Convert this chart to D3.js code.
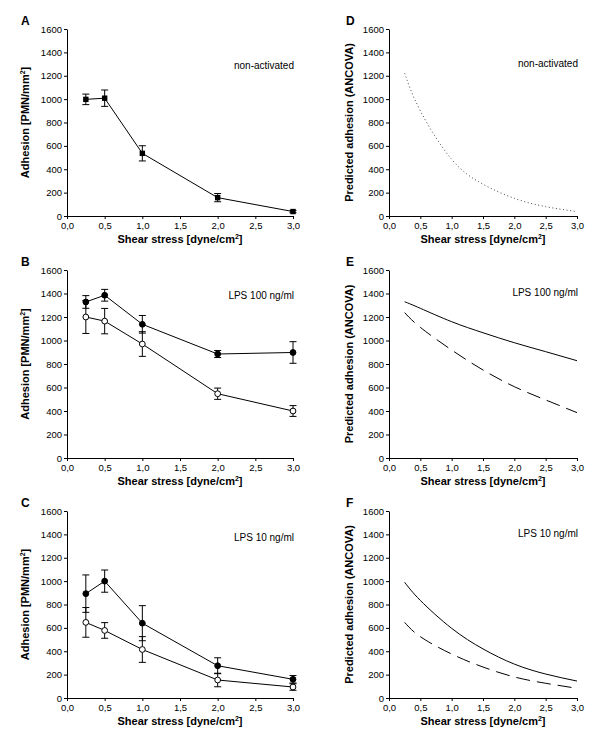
<!DOCTYPE html>
<html>
<head>
<meta charset="utf-8">
<script src="https://cdn.jsdelivr.net/npm/d3@7"></script>
<style>
  body { margin: 0; background: #fff; }
  text { font-family: "Liberation Sans", Arial, sans-serif; fill: #000; }
</style>
</head>
<body>
<div id="chart"></div>
<script>
// shear stress levels used in the experiments
var shear = [0.25, 0.5, 1, 2, 3];

// A: non-activated (mean, sem)
var aMean = [998, 1008, 536, 157, 38];
var aErr  = [45, 70, 65, 35, 10];

// B: LPS 100 ng/ml, filled and open symbols
var bFilled    = [1328, 1385, 1138, 885, 898];
var bFilledErr = [54, 50, 75, 30, 92];
var bOpen      = [1200, 1165, 970, 547, 400];
var bOpenErr   = [140, 108, 105, 48, 46];

// C: LPS 10 ng/ml
var cFilled    = [893, 1000, 640, 276, 160];
var cFilledErr = [160, 95, 150, 68, 32];
var cOpen      = [647, 578, 415, 154, 94];
var cOpenErr   = [127, 67, 110, 58, 28];

// D-F: predicted curves (ANCOVA)
var curveX   = [0.25, 0.5, 1, 1.5, 2, 2.5, 3];
var dDotted  = [1221, 900, 485, 272, 151, 80, 37];
var eSolid   = [1330, 1274, 1160, 1066, 981, 905, 828];
var eDashed  = [1237, 1112, 919, 749, 607, 494, 386];
var fSolid   = [990, 835, 596, 420, 290, 205, 145];
var fDashed  = [647, 525, 376, 265, 180, 126, 83];

var xTicks = [0, 0.5, 1, 1.5, 2, 2.5, 3];
var yTicks = [0, 200, 400, 600, 800, 1000, 1200, 1400, 1600];

var W = 600, H = 746;
var svg = d3.select("#chart").append("svg")
    .attr("width", W).attr("height", H);

var fmtX = function(d) { return d3.format(".1f")(d).replace(".", ","); };

function drawPanel(p)
{
    var x = d3.scaleLinear().domain([0, 3]).range([p.left, p.right]);
    var y = d3.scaleLinear().domain([0, 1600]).range([p.bottom, p.top]);

    var gx = svg.append("g")
        .attr("transform", "translate(0," + p.bottom + ")")
        .call(d3.axisBottom(x).tickValues(xTicks).tickFormat(fmtX)
              .tickSize(3).tickSizeOuter(0).tickPadding(3));
    var gy = svg.append("g")
        .attr("transform", "translate(" + p.left + ",0)")
        .call(d3.axisLeft(y).tickValues(yTicks).tickFormat(d3.format("d"))
              .tickSize(3).tickSizeOuter(0).tickPadding(2));
    [gx, gy].forEach(function(g) {
        g.selectAll("path, line").attr("stroke", "#000");
        g.selectAll("text").attr("font-size", 9.5)
            .attr("font-family", "Liberation Sans, Arial, sans-serif");
    });

    // panel letter
    svg.append("text").attr("x", p.letterX).attr("y", p.top - 4)
        .attr("font-size", 12).attr("font-weight", "bold").text(p.letter);

    // annotation
    svg.append("text").attr("x", p.right + 1).attr("y", p.top + p.noteDy)
        .attr("text-anchor", "end").attr("font-size", 10).text(p.note);

    // x title
    var xt = svg.append("text")
        .attr("x", (p.left + p.right) / 2).attr("y", p.bottom + 27)
        .attr("text-anchor", "middle").attr("font-size", 11)
        .attr("font-weight", "bold");
    xt.append("tspan").text("Shear stress [dyne/cm");
    xt.append("tspan").attr("dy", -4).attr("font-size", 7).text("2");
    xt.append("tspan").attr("dy", 4).text("]");

    // y title
    var yt = svg.append("text")
        .attr("transform", "translate(" + p.yTitleX + "," + ((p.top + p.bottom) / 2) + ") rotate(-90)")
        .attr("text-anchor", "middle").attr("font-size", 11)
        .attr("font-weight", "bold");
    if (p.predicted) {
        yt.text("Predicted adhesion (ANCOVA)");
    } else {
        yt.append("tspan").text("Adhesion [PMN/mm");
        yt.append("tspan").attr("dy", -4).attr("font-size", 7).text("2");
        yt.append("tspan").attr("dy", 4).text("]");
    }

    var line = d3.line().x(function(d) { return x(d[0]); })
        .y(function(d) { return y(d[1]); });
    var smooth = d3.line().x(function(d) { return x(d[0]); })
        .y(function(d) { return y(d[1]); }).curve(d3.curveNatural);

    (p.curves || []).forEach(function(c) {
        svg.append("path")
            .datum(curveX.map(function(v, i) { return [v, c.values[i]]; }))
            .attr("d", smooth).attr("fill", "none")
            .attr("stroke", c.color || "#000").attr("stroke-width", c.width || 1)
            .attr("stroke-dasharray", c.dash || null);
    });

    (p.series || []).forEach(function(s) {
        var pts = shear.map(function(v, i) { return [v, s.values[i], s.err[i]]; });
        svg.append("path").datum(pts).attr("d", line)
            .attr("fill", "none").attr("stroke", "#000").attr("stroke-width", 1);
        var eb = svg.append("g").selectAll("g").data(pts).enter().append("g");
        eb.append("line")
            .attr("x1", function(d) { return x(d[0]); })
            .attr("x2", function(d) { return x(d[0]); })
            .attr("y1", function(d) { return y(d[1] - d[2]); })
            .attr("y2", function(d) { return y(d[1] + d[2]); })
            .attr("stroke", "#000");
        [-1, 1].forEach(function(sg) {
            eb.append("line")
                .attr("x1", function(d) { return x(d[0]) - 3.5; })
                .attr("x2", function(d) { return x(d[0]) + 3.5; })
                .attr("y1", function(d) { return y(d[1] + sg * d[2]); })
                .attr("y2", function(d) { return y(d[1] + sg * d[2]); })
                .attr("stroke", "#000");
        });
        if (s.shape === "square") {
            svg.append("g").selectAll("rect").data(pts).enter().append("rect")
                .attr("x", function(d) { return x(d[0]) - 2.7; })
                .attr("y", function(d) { return y(d[1]) - 2.7; })
                .attr("width", 5.4).attr("height", 5.4).attr("fill", "#000");
        } else {
            svg.append("g").selectAll("circle").data(pts).enter().append("circle")
                .attr("cx", function(d) { return x(d[0]); })
                .attr("cy", function(d) { return y(d[1]); })
                .attr("r", 2.9)
                .attr("fill", s.shape === "open" ? "#fff" : "#000")
                .attr("stroke", "#000").attr("stroke-width", 1);
        }
    });
}

var L = { left: 67, right: 293, letterX: 21, yTitleX: 29 };
var R = { left: 389, right: 577, letterX: 346, yTitleX: 353, predicted: true };
var rows = [ { top: 29, bottom: 216 }, { top: 270, bottom: 458 }, { top: 511, bottom: 698 } ];

function merge(a, b, c) { return Object.assign({}, a, b, c); }

drawPanel(merge(L, rows[0], { letter: "A", note: "non-activated", noteDy: 40,
    series: [ { values: aMean, err: aErr, shape: "square" } ] }));
drawPanel(merge(L, rows[1], { letter: "B", note: "LPS 100 ng/ml", noteDy: 29,
    series: [ { values: bOpen, err: bOpenErr, shape: "open" },
              { values: bFilled, err: bFilledErr, shape: "filled" } ] }));
drawPanel(merge(L, rows[2], { letter: "C", note: "LPS 10 ng/ml", noteDy: 30,
    series: [ { values: cOpen, err: cOpenErr, shape: "open" },
              { values: cFilled, err: cFilledErr, shape: "filled" } ] }));

drawPanel(merge(R, rows[0], { letter: "D", note: "non-activated", noteDy: 38,
    curves: [ { values: dDotted, dash: "1,2.6", color: "#444" } ] }));
drawPanel(merge(R, rows[1], { letter: "E", note: "LPS 100 ng/ml", noteDy: 26,
    curves: [ { values: eSolid }, { values: eDashed, dash: "14,7" } ] }));
drawPanel(merge(R, rows[2], { letter: "F", note: "LPS 10 ng/ml", noteDy: 26,
    curves: [ { values: fSolid }, { values: fDashed, dash: "14,7" } ] }));
</script>
</body>
</html>
